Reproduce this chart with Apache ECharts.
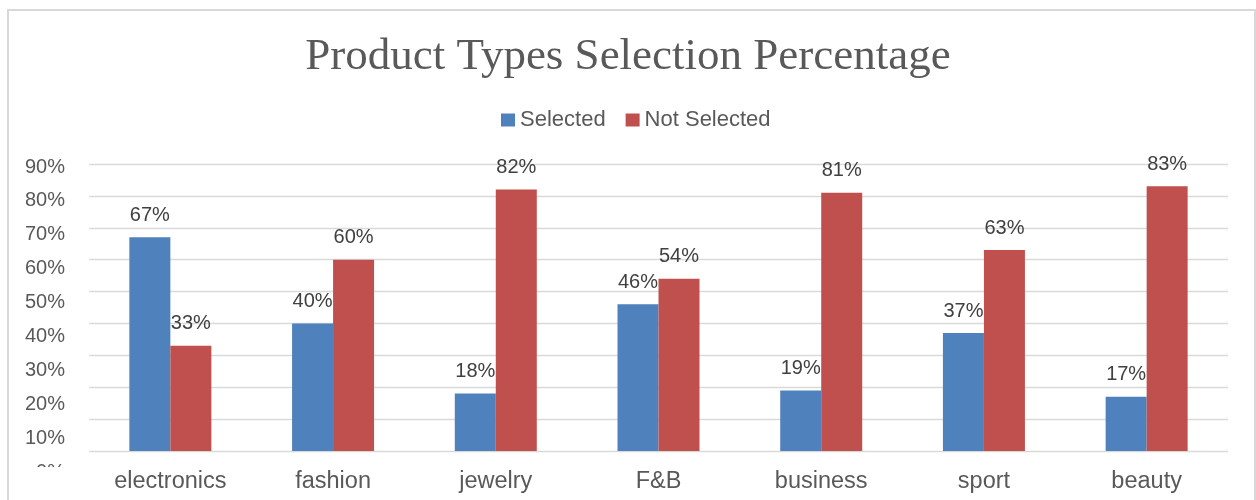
<!DOCTYPE html>
<html>
<head>
<meta charset="utf-8">
<script src="https://cdn.jsdelivr.net/npm/echarts@6/dist/echarts.min.js"></script>
<style>
html,body{margin:0;padding:0;background:#fff;}
#chart{width:1256px;height:500px;}
</style>
</head>
<body>
<div id="chart"></div>
<script>
const categories = ['electronics', 'fashion', 'jewelry', 'F&B', 'business', 'sport', 'beauty'];
const selected = [67, 40, 18, 46, 19, 37, 17];
const notSelected = [33, 60, 82, 54, 81, 63, 83];
const yTicks = [0, 10, 20, 30, 40, 50, 60, 70, 80, 90];

const chart = echarts.init(document.getElementById('chart'));
const labelStyle = {
  show: true, position: 'top', distance: 12,
  fontFamily: 'Liberation Sans, Arial', fontSize: 20, color: '#404040',
  formatter: p => p.value + '%'
};
chart.setOption({
  animation: false,
  backgroundColor: '#fff',
  title: {
    text: 'Product Types Selection Percentage',
    left: 'center', top: 30,
    textStyle: { fontFamily: 'Liberation Serif, Times New Roman', fontWeight: 'normal', fontSize: 45, color: '#595959' }
  },
  legend: {
    left: 496, top: 104,
    icon: 'rect', itemWidth: 14, itemHeight: 13, itemGap: 20,
    textStyle: { fontFamily: 'Liberation Sans, Arial', fontSize: 22, color: '#595959' },
    data: ['Selected', 'Not Selected']
  },
  grid: [
    { left: 89, right: 28, top: 164, bottom: 49 },
    { left: 88, right: 29, top: 167, bottom: 28 }
  ],
  xAxis: [
    {
      type: 'category', data: categories, gridIndex: 0,
      axisLine: { show: false }, axisTick: { show: false },
      axisLabel: { fontFamily: 'Liberation Sans, Arial', fontSize: 23.5, color: '#595959', margin: 19 }
    },
    { type: 'category', data: categories, gridIndex: 1, show: false }
  ],
  yAxis: [
    {
      type: 'value', gridIndex: 0, min: yTicks[0], max: yTicks[yTicks.length - 1], interval: 10,
      axisLabel: { show: false }, axisLine: { show: false }, axisTick: { show: false },
      splitLine: { lineStyle: { color: '#d9d9d9', width: 1.3 } }
    },
    {
      type: 'value', gridIndex: 1, min: yTicks[0], max: yTicks[yTicks.length - 1], interval: 10,
      axisLine: { show: false }, axisTick: { show: false }, splitLine: { show: false },
      axisLabel: { margin: 23, fontFamily: 'Liberation Sans, Arial', fontSize: 20, color: '#595959', formatter: v => v + '%' }
    }
  ],
  series: [
    { name: 'Selected', type: 'bar', data: selected, barWidth: 41, barGap: '0%',
      itemStyle: { color: '#4F81BD' }, label: labelStyle, z: 3 },
    { name: 'Not Selected', type: 'bar', data: notSelected, barWidth: 41, barGap: '0%',
      itemStyle: { color: '#C0504D' }, label: labelStyle, z: 3 }
  ],
  graphic: [
    { type: 'rect', z: 100, shape: { x: 12, y: 467, width: 74, height: 40 }, style: { fill: '#fff' } },
    { type: 'rect', z: 101, shape: { x: 8, y: 10, width: 1247, height: 520 }, style: { fill: 'none', stroke: '#d9d9d9', lineWidth: 2 } }
  ]
});
</script>
</body>
</html>
